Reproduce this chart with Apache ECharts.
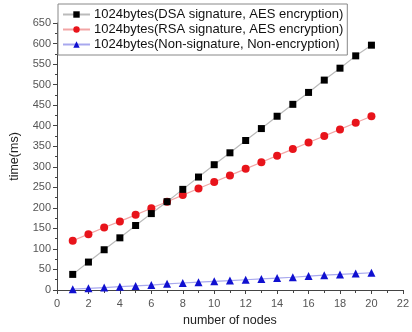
<!DOCTYPE html>
<html>
<head>
<meta charset="utf-8">
<script src="https://cdn.jsdelivr.net/npm/echarts@6/dist/echarts.min.js"></script>
<style>
  html, body { margin: 0; padding: 0; background: #fff; }
  #main { width: 412px; height: 332px; }
</style>
</head>
<body>
<div id="main"></div>
<script>
// x = number of nodes
var nodes = [1, 2, 3, 4, 5, 6, 7, 8, 9, 10, 11, 12, 13, 14, 15, 16, 17, 18, 19, 20];
var dsaAes = [38, 68, 98, 127, 157, 186, 215, 245, 275, 305, 334, 364, 393, 423, 452, 481, 511, 540, 570, 596];
var rsaAes = [120, 136, 152, 167, 183, 199, 215, 231, 247, 263, 279, 295, 311, 327, 343, 359, 375, 391, 407, 423];
var nonSig = [2, 4, 6, 8, 10, 12, 15, 17, 19, 21, 23, 25, 27, 29, 31, 34, 36, 38, 40, 42];
var seriesNames = [
  '1024bytes(DSA signature, AES encryption)',
  '1024bytes(RSA signature, AES encryption)',
  '1024bytes(Non-signature, Non-encryption)'
];

function pairs(ys) {
  return nodes.map(function (x, i) { return [x, ys[i]]; });
}

var chart = echarts.init(document.getElementById('main'));
var font = 'Liberation Sans, Arial, sans-serif';

var option = {
  animation: false,
  grid: { left: 53, right: 6, top: 23, bottom: 42 },
  legend: {
    orient: 'vertical',
    left: 58,
    top: 4,
    padding: [4, 4, 4, 4],
    itemGap: 2,
    itemWidth: 27,
    itemHeight: 8,
    borderColor: '#888',
    borderWidth: 1,
    textStyle: { fontFamily: font, fontSize: 13, color: '#111', padding: [0, 0, 0, -1] },
    data: seriesNames
  },
  xAxis: {
    type: 'value',
    min: 0, max: 22, interval: 2,
    name: 'number of nodes',
    nameLocation: 'middle',
    nameGap: 24,
    nameTextStyle: { fontFamily: font, fontSize: 12.5, color: '#222' },
    axisLine: { show: true, lineStyle: { color: '#444', width: 1 } },
    axisTick: { show: true, length: 4, inside: false, lineStyle: { color: '#444' } },
    minorTick: { show: true, splitNumber: 2, length: 3, lineStyle: { color: '#444' } },
    splitLine: { show: false },
    axisLabel: { fontFamily: font, fontSize: 11, color: '#555', margin: 8 }
  },
  yAxis: {
    type: 'value',
    min: 0, max: 650, interval: 50,
    name: 'time(ms)',
    nameLocation: 'middle',
    nameGap: 36,
    nameTextStyle: { fontFamily: font, fontSize: 12.5, color: '#222' },
    axisLine: { show: true, lineStyle: { color: '#444', width: 1 } },
    axisTick: { show: true, length: 4, lineStyle: { color: '#444' } },
    minorTick: { show: true, splitNumber: 2, length: 2, lineStyle: { color: '#444' } },
    splitLine: { show: false },
    axisLabel: { fontFamily: font, fontSize: 11, color: '#555', margin: 6 }
  },
  series: [
    {
      name: seriesNames[0],
      type: 'line',
      data: pairs(dsaAes),
      symbol: 'rect',
      symbolSize: 7,
      itemStyle: { color: '#000' },
      lineStyle: { color: '#bbb', width: 1.2 },
      z: 3
    },
    {
      name: seriesNames[1],
      type: 'line',
      data: pairs(rsaAes),
      symbol: 'circle',
      symbolSize: 8,
      itemStyle: { color: '#e8141b' },
      lineStyle: { color: '#f2a5a5', width: 1.2 },
      z: 2
    },
    {
      name: seriesNames[2],
      type: 'line',
      data: pairs(nonSig),
      symbol: 'triangle',
      symbolSize: 8,
      itemStyle: { color: '#1010d0' },
      lineStyle: { color: '#a8a8ee', width: 1.2 },
      z: 2
    }
  ]
};
chart.setOption(option);
</script>
</body>
</html>
